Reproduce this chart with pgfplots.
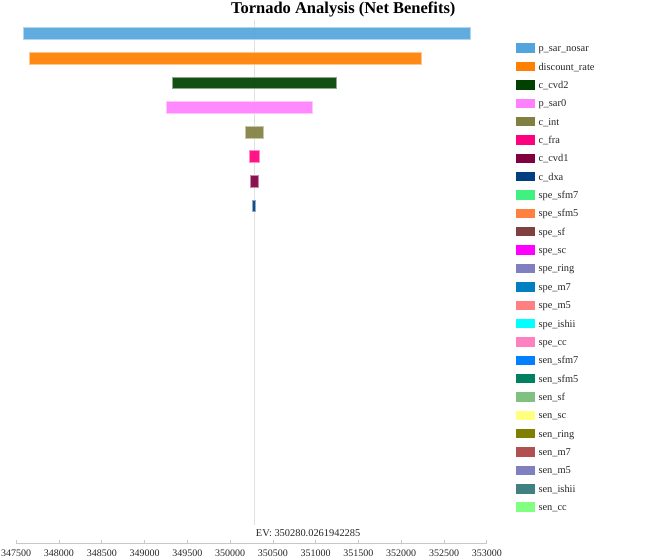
\documentclass[border=0pt]{standalone}
\usepackage{fontspec}
\setmainfont{Liberation Serif}
\usepackage{pgfplots}
\pgfplotsset{compat=1.18}
\definecolor{c01}{HTML}{52A5DC}
\definecolor{c02}{HTML}{FF7F00}
\definecolor{c03}{HTML}{004000}
\definecolor{c04}{HTML}{FF80FF}
\definecolor{c05}{HTML}{808040}
\definecolor{c06}{HTML}{FF0080}
\definecolor{c07}{HTML}{800040}
\definecolor{c08}{HTML}{004080}
\definecolor{c09}{HTML}{40F080}
\definecolor{c10}{HTML}{FF8040}
\definecolor{c11}{HTML}{804040}
\definecolor{c12}{HTML}{FF00FF}
\definecolor{c13}{HTML}{8080C0}
\definecolor{c14}{HTML}{0080C0}
\definecolor{c15}{HTML}{FF8080}
\definecolor{c16}{HTML}{00FFFF}
\definecolor{c17}{HTML}{FF80C0}
\definecolor{c18}{HTML}{0080FF}
\definecolor{c19}{HTML}{008060}
\definecolor{c20}{HTML}{80C080}
\definecolor{c21}{HTML}{FFFF80}
\definecolor{c22}{HTML}{808000}
\definecolor{c23}{HTML}{B05050}
\definecolor{c24}{HTML}{8080C0}
\definecolor{c25}{HTML}{408080}
\definecolor{c26}{HTML}{80FF80}
\begin{document}
\begin{tikzpicture}
\begin{axis}[
  at={(16.2pt,15.3pt)}, anchor=south west,
  scale only axis, width=470.6pt, height=528.7pt,
  xmin=347500, xmax=353000, ymin=0.248, ymax=21.74, y dir=reverse,
  clip=false,
  axis x line*=bottom, axis y line=none,
  x axis line style={draw=black!22, line width=0.6pt},
  xtick={347500,348000,...,353000},
  scaled x ticks=false,
  /pgf/number format/fixed, /pgf/number format/1000 sep={},
  /pgf/number format/assume math mode=true,
  tick align=inside, major tick length=4pt,
  tick style={draw=black!22, line width=0.6pt},
  xticklabel style={font=\fontsize{10}{12}\selectfont, text=black!85, anchor=north, inner sep=0pt, yshift=-5.6pt},
  legend cell align=left,
  legend style={at={(1.0606,0.955)}, anchor=north west, draw=none, fill=none,
    inner sep=0pt, row sep=0pt, column sep=4pt, text=black!85,
    font=\fontsize{10.4}{12}\selectfont,
    nodes={inner sep=0pt, minimum height=18.36pt, text height=9pt, text depth=2pt}},
  legend image code/.code={\draw[#1,draw=none,fill opacity=1] (0pt,-4.7pt) rectangle (19pt,4.7pt);},
  tb/.style={fill=#1, fill opacity=0.92, draw=#1!45!white, line width=0.4pt},
]
\addplot[forget plot, draw=black!12, line width=0.6pt] coordinates {(350280.026,0.45) (350280.026,20.98)};
\addplot[tb=c01] coordinates {(347583,0.76) (352807,0.76) (352807,1.24) (347583,1.24)} -- cycle;
\addlegendentry{p\_sar\_nosar}
\addplot[tb=c02] coordinates {(347653,1.76) (352235,1.76) (352235,2.24) (347653,2.24)} -- cycle;
\addlegendentry{discount\_rate}
\addplot[tb=c03] coordinates {(349324,2.76) (351241,2.76) (351241,3.24) (349324,3.24)} -- cycle;
\addlegendentry{c\_cvd2}
\addplot[tb=c04] coordinates {(349254,3.76) (350965,3.76) (350965,4.24) (349254,4.24)} -- cycle;
\addlegendentry{p\_sar0}
\addplot[tb=c05] coordinates {(350174,4.76) (350385,4.76) (350385,5.24) (350174,5.24)} -- cycle;
\addlegendentry{c\_int}
\addplot[tb=c06] coordinates {(350221,5.76) (350341,5.76) (350341,6.24) (350221,6.24)} -- cycle;
\addlegendentry{c\_fra}
\addplot[tb=c07] coordinates {(350233,6.76) (350334,6.76) (350334,7.24) (350233,7.24)} -- cycle;
\addlegendentry{c\_cvd1}
\addplot[tb=c08] coordinates {(350264,7.76) (350299,7.76) (350299,8.24) (350264,8.24)} -- cycle;
\addlegendentry{c\_dxa}
\addlegendimage{fill=c09}\addlegendentry{spe\_sfm7}
\addlegendimage{fill=c10}\addlegendentry{spe\_sfm5}
\addlegendimage{fill=c11}\addlegendentry{spe\_sf}
\addlegendimage{fill=c12}\addlegendentry{spe\_sc}
\addlegendimage{fill=c13}\addlegendentry{spe\_ring}
\addlegendimage{fill=c14}\addlegendentry{spe\_m7}
\addlegendimage{fill=c15}\addlegendentry{spe\_m5}
\addlegendimage{fill=c16}\addlegendentry{spe\_ishii}
\addlegendimage{fill=c17}\addlegendentry{spe\_cc}
\addlegendimage{fill=c18}\addlegendentry{sen\_sfm7}
\addlegendimage{fill=c19}\addlegendentry{sen\_sfm5}
\addlegendimage{fill=c20}\addlegendentry{sen\_sf}
\addlegendimage{fill=c21}\addlegendentry{sen\_sc}
\addlegendimage{fill=c22}\addlegendentry{sen\_ring}
\addlegendimage{fill=c23}\addlegendentry{sen\_m7}
\addlegendimage{fill=c24}\addlegendentry{sen\_m5}
\addlegendimage{fill=c25}\addlegendentry{sen\_ishii}
\addlegendimage{fill=c26}\addlegendentry{sen\_cc}
\node[anchor=base west, inner sep=0pt, xshift=1.7pt, font=\fontsize{10.4}{12}\selectfont, text=black!85] at (axis cs:350280.026,21.43) {EV: 350280.0261942285};
\node[anchor=base, inner sep=0pt, font=\bfseries\fontsize{16.5}{18}\selectfont] at (axis description cs:0.695,1.0030) {Tornado Analysis (Net Benefits)};
\end{axis}
\pgfresetboundingbox
\useasboundingbox (0,0) rectangle (669pt,559pt);
\end{tikzpicture}
\end{document}
